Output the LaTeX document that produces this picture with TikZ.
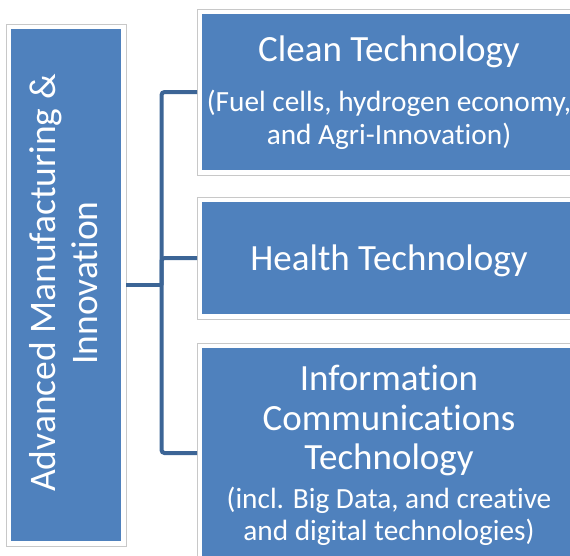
\documentclass[tikz,border=0pt]{standalone}
\usepackage{fontspec}
\setmainfont{Carlito}[RawFeature={-liga,-clig,-dlig}]
\definecolor{boxblue}{RGB}{79,129,189}
\definecolor{connblue}{RGB}{60,101,150}
\definecolor{framegrey}{RGB}{200,200,200}
\begin{document}
\begin{tikzpicture}[x=1pt,y=-1pt,
  frame/.style={draw=framegrey,line width=1pt,fill=white,inner sep=0pt,outer sep=0pt,anchor=north west},
  bluebox/.style={fill=boxblue,draw=none,inner sep=0pt,outer sep=0pt,anchor=north west},
  conn/.style={draw=connblue,line width=4pt,rounded corners=3pt},
  title/.style={text=white,inner sep=0pt,anchor=base,font=\fontsize{37}{40}\selectfont},
  sub/.style={text=white,inner sep=0pt,anchor=base,font=\fontsize{29.3}{32}\selectfont},
  side/.style={text=white,inner sep=0pt,anchor=base,rotate=90,font=\fontsize{37.5}{40}\selectfont}]
\useasboundingbox (0,0) rectangle (570,555);
\clip (0,0) rectangle (570,555);
% left box
\node[frame,minimum width=120pt,minimum height=522pt] (Lf) at (6,24) {};
\node[bluebox,minimum width=110pt,minimum height=512pt] (L) at (11,29) {};
\node[side] (Lt1) at (55,283) {Advanced Manufacturing \&};
\node[side] (Lt2) at (97,283) {Innovation};
% right boxes
\node[frame,minimum width=384pt,minimum height=166pt] (B1f) at (197,9) {};
\node[bluebox,minimum width=374pt,minimum height=156pt] (B1) at (202,14) {};
\node[frame,minimum width=384pt,minimum height=122pt] (B2f) at (197,197) {};
\node[bluebox,minimum width=374pt,minimum height=112pt] (B2) at (202,202) {};
\node[frame,minimum width=384pt,minimum height=220pt] (B3f) at (197,343) {};
\node[bluebox,minimum width=374pt,minimum height=210pt] (B3) at (202,348) {};
% texts
\node[title] (T1) at (389,61) {Clean Technology};
\node[sub] (T1a) at (389,111) {(Fuel cells, hydrogen economy,};
\node[sub] (T1b) at (389,144) {and Agri-Innovation)};
\node[title] (T2) at (389,270) {Health Technology};
\node[title] (T3a) at (389,390) {Information};
\node[title] (T3b) at (389,430) {Communications};
\node[title] (T3c) at (389,469) {Technology};
\node[sub] (T3d) at (389,508) {(incl. Big Data, and creative};
\node[sub] (T3e) at (389,540) {and digital technologies)};
% connectors
\coordinate (J) at (161.5,285);
\draw[conn] (Lf.east) -- (J);
\draw[conn] (B1f.west) -| (J);
\draw[conn] (B2f.west) -| (J);
\draw[conn] (B3f.west) -| (J);
\end{tikzpicture}
\end{document}
